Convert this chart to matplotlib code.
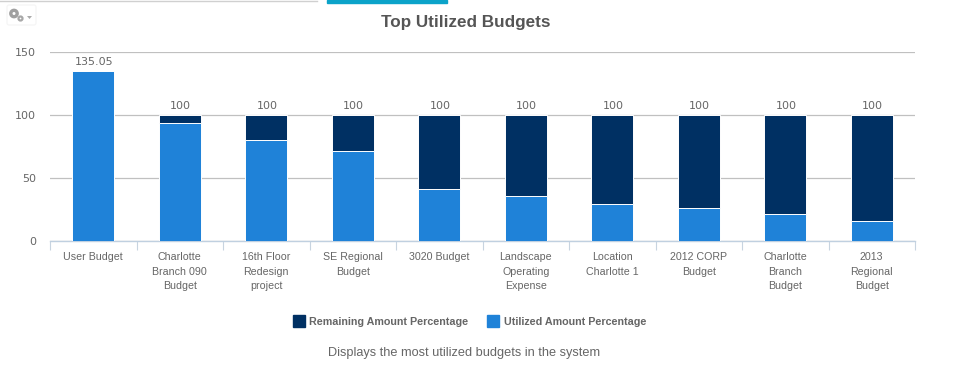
import matplotlib
matplotlib.use("Agg")
import matplotlib.pyplot as plt
from matplotlib.patches import Rectangle, Circle, Polygon, FancyBboxPatch
from matplotlib.lines import Line2D

categories = ["User Budget", "Charlotte\nBranch 090\nBudget", "16th Floor\nRedesign\nproject",
              "SE Regional\nBudget", "3020 Budget", "Landscape\nOperating\nExpense",
              "Location\nCharlotte 1", "2012 CORP\nBudget", "Charlotte\nBranch\nBudget",
              "2013\nRegional\nBudget"]
utilized = [135.05, 94, 80, 71.5, 41, 35.5, 29.5, 26, 21.5, 16]
remaining = [0, 6, 20, 28.5, 59, 64.5, 70.5, 74, 78.5, 84]
totals = ["135.05", "100", "100", "100", "100", "100", "100", "100", "100", "100"]
yticks = [0, 50, 100, 150]

W, H = 960, 388
plt.rcParams['font.family'] = ['Liberation Sans', 'DejaVu Sans']
fig = plt.figure(figsize=(W / 100, H / 100), dpi=100, facecolor='white')
ax = fig.add_axes([50 / W, 1 - 241 / H, 865 / W, 189 / H])

DARK = '#003063'
BLUE = '#1f82d8'
x = range(len(categories))
ax.bar(x, utilized, width=0.485, color=BLUE, edgecolor='white', linewidth=0.7, zorder=3,
       label='Utilized Amount Percentage')
ax.bar(x, remaining, width=0.485, bottom=utilized, color=DARK, edgecolor='white', linewidth=0.7, zorder=3,
       label='Remaining Amount Percentage')
for i, t in enumerate(totals):
    top = utilized[i] + remaining[i]
    ax.annotate(t, (i, top), xytext=(0.5, 3), textcoords='offset points', ha='center', va='bottom',
                fontsize=8.0, color='#666666', family=['DejaVu Sans'], zorder=4)

ax.set_xlim(-0.5, len(categories) - 0.5)
ax.set_ylim(0, 150)
ax.set_yticks(yticks)
ax.set_yticklabels([str(v) for v in yticks], fontsize=8.0, color='#666666', family=['DejaVu Sans'])
ax.tick_params(axis='y', length=0, pad=10)
ax.yaxis.grid(True, color='#c0c0c0', linewidth=0.9, zorder=0)
ax.set_axisbelow(True)
for s in ['top', 'right', 'left']:
    ax.spines[s].set_visible(False)
ax.spines['bottom'].set_color('#c0d0e0')
ax.spines['bottom'].set_linewidth(1)

ax.set_xticks([i - 0.5 for i in range(len(categories) + 1)])
ax.set_xticklabels([])
ax.tick_params(axis='x', length=6.5, color='#c8d4e0', width=0.8)
for i, c in enumerate(categories):
    ax.annotate(c, (i, 0), xytext=(0, -8.2), textcoords='offset points', ha='center', va='top',
                fontsize=7.65, fontweight='normal', color='#666666', linespacing=1.56)

fig.text(466 / W, 1 - 22 / H, 'Top Utilized Budgets', ha='center', va='center',
         fontsize=12.35, fontweight='bold', color='#555555')
fig.text(464.5 / W, 1 - 353 / H, 'Displays the most utilized budgets in the system', ha='center', va='center',
         fontsize=9.2, color='#666666')

# legend
h, l = ax.get_legend_handles_labels()
fig.patches.append(Rectangle((293 / W, 1 - 327 / H), 12 / W, 12 / H, transform=fig.transFigure, color=DARK))
fig.patches.append(Rectangle((487 / W, 1 - 327 / H), 12 / W, 12 / H, transform=fig.transFigure, color=BLUE))
fig.text(309 / W, 1 - 322 / H, l[1], ha='left', va='center', fontsize=7.72, fontweight='bold', color='#666666')
fig.text(504 / W, 1 - 322 / H, l[0], ha='left', va='center', fontsize=7.72, fontweight='bold', color='#666666')

# page furniture: top rule, teal tab, gear button
fig.add_artist(Line2D([0, 317 / W], [1 - 1 / H, 1 - 1 / H], color='#d0d0d0', linewidth=1))
fig.patches.append(Rectangle((327 / W, 1 - 3 / H), 120 / W, 3 / H, transform=fig.transFigure, color='#0ba3c9'))
over = fig.add_axes([0, 0, 1, 1], facecolor='none')
over.set_xlim(0, W); over.set_ylim(H, 0); over.axis('off')
over.add_patch(FancyBboxPatch((7, 5), 29, 20, boxstyle='round,pad=0,rounding_size=2', fc='white', ec='#f4f4f4', lw=0.8))
over.add_patch(Circle((14, 13.5), 3.2, fc='none', ec='#a0a0a0', lw=2.4))
over.add_patch(Circle((20.5, 18.5), 2, fc='none', ec='#a8a8a8', lw=1.6))
over.add_patch(Polygon([[27, 16], [32, 16], [29.5, 19]], fc='#aaaaaa', ec='none'))

fig.savefig('out.png', dpi=100, facecolor='white')
